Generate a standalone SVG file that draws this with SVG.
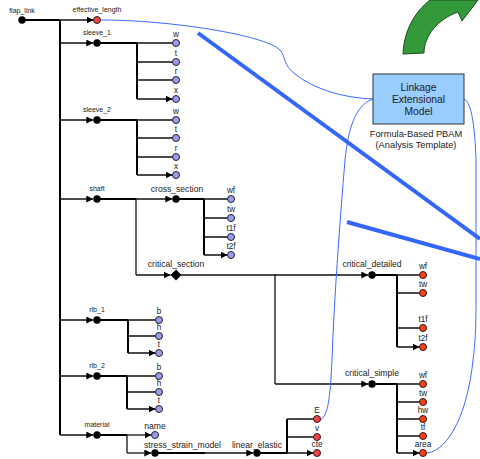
<svg xmlns="http://www.w3.org/2000/svg" width="480" height="459" viewBox="0 0 480 459">
  <style>
    text { font-family: "Liberation Sans", Arial, sans-serif; fill: #222; text-anchor: middle; }
    .s { font-size: 7px; }
    .m { font-size: 8.2px; }
    .l { font-size: 8.6px; }
    .box { font-size: 10.3px; }
    .cap { font-size: 9.3px; }
    .ln { stroke: #111; stroke-width: 1.3; fill: none; }
    .th { stroke: #000; stroke-width: 2; fill: none; }
    .ar { stroke: #111; stroke-width: 1.3; fill: none; marker-end: url(#arr); }
    .blk { fill: #000; }
    .blu { fill: #9a9cf2; stroke: #222; stroke-width: 1; }
    .red { fill: #f04545; stroke: #222; stroke-width: 1; }
    .org { fill: #ff3c14; stroke: #222; stroke-width: 1; }
    .wire { stroke: #3d6bff; stroke-width: 1; fill: none; }
    .bar { stroke: #3366ff; stroke-width: 4; fill: none; }
  </style>
  <defs>
    <marker id="arr" markerUnits="userSpaceOnUse" markerWidth="8" markerHeight="8" refX="7" refY="3.5" orient="auto">
      <path d="M0,0 L7,3.5 L0,7 Z" fill="#000"/>
    </marker>
  </defs>

  <!-- green turn arrow -->
  <path d="M 403 54 L 424 53 C 424 36, 438 19, 458 12 L 462 21 L 478 0 L 430 0 C 415 12, 404 30, 403 54 Z" fill="#33993a" stroke="#1d4a1d" stroke-width="1"/>

  <g id="connectors">
    <!-- trunk -->
    <path class="th" d="M22 20 H60 M60 20 V435"/>
    <path class="ar" d="M60 20 H93.5"/>
    <path class="ar" d="M60 43 H93.3"/>
    <path class="ar" d="M60 120 H93.3"/>
    <path class="ar" d="M60 199 H93.3"/>
    <path class="ar" d="M60 320 H93.3"/>
    <path class="ar" d="M60 376 H93.3"/>
    <path class="ar" d="M60 435 H93.3"/>

    <!-- sleeve_1 -->
    <path class="th" d="M97 43 H137 M137 43 V99"/>
    <path class="ar" d="M137 43 H172.5 M137 62 H172.5 M137 80 H172.5 M137 99 H172.5"/>
    <!-- sleeve_2 -->
    <path class="th" d="M97 120 H137 M137 120 V175"/>
    <path class="ar" d="M137 120 H172.5 M137 138 H172.5 M137 157 H172.5 M137 175 H172.5"/>

    <!-- shaft -->
    <path class="th" d="M97 199 H136"/>
    <path class="ln" d="M136 199 V275"/>
    <path class="ar" d="M136 199 H172.3"/>
    <path class="ar" d="M136 275 H170.5"/>
    <path class="th" d="M176 199 H204 M204 199 V255"/>
    <path class="ar" d="M204 199 H227.5 M204 218 H227.5 M204 237 H227.5 M204 255 H227.5"/>

    <!-- critical_section -->
    <path class="ln" d="M181 275 H275 V384"/>
    <path class="ar" d="M275 275 H368.3"/>
    <path class="ar" d="M275 384 H368.3"/>
    <path class="th" d="M372 275 H397 M397 275 V347"/>
    <path class="ar" d="M397 275 H419.5 M397 293 H419.5 M397 328 H419.5 M397 347 H419.5"/>
    <path class="th" d="M372 384 H397 M397 384 V453"/>
    <path class="ar" d="M397 384 H419.5 M397 402 H419.5 M397 419 H419.5 M397 436 H419.5 M397 453 H419.5"/>

    <!-- rib_1 / rib_2 -->
    <path class="th" d="M97 320 H128 M128 320 V353"/>
    <path class="ar" d="M128 320 H155.5 M128 336 H155.5 M128 353 H155.5"/>
    <path class="th" d="M97 376 H127 M127 376 V409"/>
    <path class="ar" d="M127 376 H155.5 M127 392 H155.5 M127 409 H155.5"/>

    <!-- material -->
    <path class="th" d="M97 435 H127"/>
    <path class="ln" d="M127 435 V453"/>
    <path class="ar" d="M127 435 H151.5"/>
    <path class="ar" d="M127 453 H151.3"/>
    <path class="th" d="M155 453 H205"/>
    <path class="ar" d="M205 453 H253.3"/>
    <path class="th" d="M257 453 H287 M287 453 V419"/>
    <path class="ar" d="M287 419 H313.5 M287 437 H313.5 M287 453 H313.5"/>

    <!-- model links -->
    <path class="wire" d="M101 20 C 170 20, 265 35, 280 50 C 286 57, 283 65, 295 74 C 315 90, 345 98, 373 99"/>
    <path class="wire" d="M373 99 C 355 105, 348 130, 345 160 C 340 220, 334 300, 332 360 C 330 400, 328 415, 320.5 420"/>
    <path class="wire" d="M464 99 C 472 102, 475 130, 476 160 L 476 300 C 476 330, 475 345, 473 360 C 468 410, 450 450, 427 453"/>
    <path class="bar" d="M198 33 L480 239"/>
    <path class="bar" d="M347 222 L480 259"/>
  </g>

  <g id="flap_link"><circle class="blk" cx="22" cy="20" r="3.7"/><text class="s" x="22" y="13">flap_link</text></g>
  <g id="effective_length"><circle class="red" cx="97" cy="20" r="3.5"/><text class="s" x="97" y="11.5">effective_length</text></g>

  <g id="sleeve_1"><circle class="blk" cx="97" cy="43" r="3.7"/><text class="s" x="97" y="35">sleeve_1</text></g>
  <g id="sleeve_1_w"><circle class="blu" cx="176" cy="43" r="3.5"/><text class="m" x="176" y="37">w</text></g>
  <g id="sleeve_1_t"><circle class="blu" cx="176" cy="62" r="3.5"/><text class="m" x="176" y="56">t</text></g>
  <g id="sleeve_1_r"><circle class="blu" cx="176" cy="80" r="3.5"/><text class="m" x="176" y="74">r</text></g>
  <g id="sleeve_1_x"><circle class="blu" cx="176" cy="99" r="3.5"/><text class="m" x="176" y="93">x</text></g>

  <g id="sleeve_2"><circle class="blk" cx="97" cy="120" r="3.7"/><text class="s" x="97" y="112">sleeve_2</text></g>
  <g id="sleeve_2_w"><circle class="blu" cx="176" cy="120" r="3.5"/><text class="m" x="176" y="114">w</text></g>
  <g id="sleeve_2_t"><circle class="blu" cx="176" cy="138" r="3.5"/><text class="m" x="176" y="132">t</text></g>
  <g id="sleeve_2_r"><circle class="blu" cx="176" cy="157" r="3.5"/><text class="m" x="176" y="151">r</text></g>
  <g id="sleeve_2_x"><circle class="blu" cx="176" cy="175" r="3.5"/><text class="m" x="176" y="169">x</text></g>

  <g id="shaft"><circle class="blk" cx="97" cy="199" r="3.7"/><text class="s" x="97" y="191">shaft</text></g>
  <g id="cross_section"><circle class="blk" cx="176" cy="199" r="3.7"/><text class="l" x="177" y="192">cross_section</text></g>
  <g id="cs_wf"><circle class="blu" cx="231" cy="199" r="3.5"/><text class="m" x="231" y="193">wf</text></g>
  <g id="cs_tw"><circle class="blu" cx="231" cy="218" r="3.5"/><text class="m" x="231" y="212">tw</text></g>
  <g id="cs_t1f"><circle class="blu" cx="231" cy="237" r="3.5"/><text class="m" x="231" y="231">t1f</text></g>
  <g id="cs_t2f"><circle class="blu" cx="231" cy="255" r="3.5"/><text class="m" x="231" y="249">t2f</text></g>

  <g id="critical_section"><path class="blk" d="M176 269.5 L181.5 275 L176 280.5 L170.5 275 Z"/><text class="l" x="176" y="267">critical_section</text></g>

  <g id="critical_detailed"><circle class="blk" cx="372" cy="275" r="3.7"/><text class="l" x="372" y="267">critical_detailed</text></g>
  <g id="cd_wf"><circle class="org" cx="423" cy="275" r="3.5"/><text class="m" x="423" y="269">wf</text></g>
  <g id="cd_tw"><circle class="org" cx="423" cy="293" r="3.5"/><text class="m" x="423" y="287">tw</text></g>
  <g id="cd_t1f"><circle class="org" cx="423" cy="328" r="3.5"/><text class="m" x="423" y="322">t1f</text></g>
  <g id="cd_t2f"><circle class="org" cx="423" cy="347" r="3.5"/><text class="m" x="423" y="341">t2f</text></g>

  <g id="critical_simple"><circle class="blk" cx="372" cy="384" r="3.7"/><text class="l" x="372" y="376">critical_simple</text></g>
  <g id="cs2_wf"><circle class="org" cx="423" cy="384" r="3.5"/><text class="m" x="423" y="378">wf</text></g>
  <g id="cs2_tw"><circle class="org" cx="423" cy="402" r="3.5"/><text class="m" x="423" y="396">tw</text></g>
  <g id="cs2_hw"><circle class="org" cx="423" cy="419" r="3.5"/><text class="m" x="423" y="413">hw</text></g>
  <g id="cs2_tf"><circle class="org" cx="423" cy="436" r="3.5"/><text class="m" x="423" y="430">tf</text></g>
  <g id="cs2_area"><circle class="org" cx="423" cy="453" r="3.5"/><text class="m" x="423" y="447">area</text></g>

  <g id="rib_1"><circle class="blk" cx="97" cy="320" r="3.7"/><text class="s" x="97" y="312">rib_1</text></g>
  <g id="rib_1_b"><circle class="blu" cx="159" cy="320" r="3.5"/><text class="m" x="159" y="314">b</text></g>
  <g id="rib_1_h"><circle class="blu" cx="159" cy="336" r="3.5"/><text class="m" x="159" y="330">h</text></g>
  <g id="rib_1_t"><circle class="blu" cx="159" cy="353" r="3.5"/><text class="m" x="159" y="347">t</text></g>

  <g id="rib_2"><circle class="blk" cx="97" cy="376" r="3.7"/><text class="s" x="97" y="368">rib_2</text></g>
  <g id="rib_2_b"><circle class="blu" cx="159" cy="376" r="3.5"/><text class="m" x="159" y="370">b</text></g>
  <g id="rib_2_h"><circle class="blu" cx="159" cy="392" r="3.5"/><text class="m" x="159" y="386">h</text></g>
  <g id="rib_2_t"><circle class="blu" cx="159" cy="409" r="3.5"/><text class="m" x="159" y="403">t</text></g>

  <g id="material"><circle class="blk" cx="97" cy="435" r="3.7"/><text class="s" x="97" y="427">material</text></g>
  <g id="name"><circle class="blu" cx="155" cy="435" r="3.5"/><text class="l" x="155" y="429">name</text></g>
  <g id="stress_strain_model"><circle class="blk" cx="155" cy="453" r="3.7"/><text class="l" x="144" y="447.5" style="text-anchor:start">stress_strain_model</text></g>
  <g id="linear_elastic"><circle class="blk" cx="257" cy="453" r="3.7"/><text class="l" x="257" y="447.5">linear_elastic</text></g>
  <g id="E"><circle class="red" cx="317" cy="419" r="3.5"/><text class="m" x="317" y="413">E</text></g>
  <g id="v"><circle class="red" cx="317" cy="437" r="3.5"/><text class="m" x="317" y="431">v</text></g>
  <g id="cte"><circle class="red" cx="317" cy="453" r="3.5"/><text class="m" x="317" y="447">cte</text></g>

  <g id="linkage_model">
    <rect x="373" y="74" width="91" height="50" fill="#99ccff" stroke="#333" stroke-width="1"/>
    <text class="box" x="418.5" y="91">Linkage</text>
    <text class="box" x="418.5" y="103">Extensional</text>
    <text class="box" x="418.5" y="115">Model</text>
    <text class="cap" x="416" y="137">Formula-Based PBAM</text>
    <text class="cap" x="416" y="148">(Analysis Template)</text>
  </g>
</svg>
